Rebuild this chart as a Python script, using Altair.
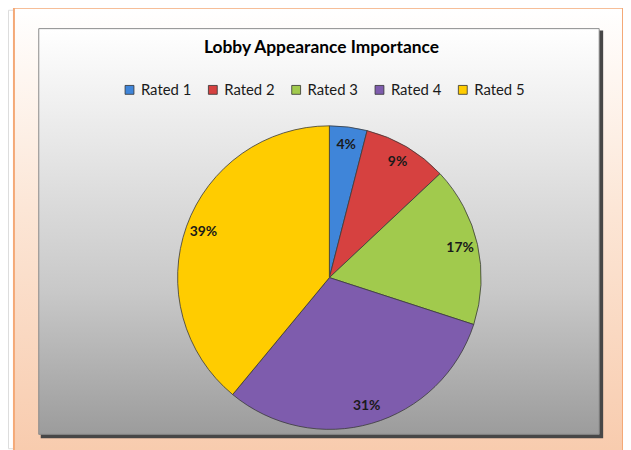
import altair as alt
import pandas as pd

categories = ["Rated 1", "Rated 2", "Rated 3", "Rated 4", "Rated 5"]
values = [4, 9, 17, 31, 39]
labels = ["4%", "9%", "17%", "31%", "39%"]
colors = ["#3F85D9", "#D64140", "#A1CA4D", "#7E5CAD", "#FFCC00"]
title_text = "Lobby Appearance Importance"

df = pd.DataFrame({"category": categories, "value": values, "label": labels,
                   "order": list(range(len(categories)))})
one = pd.DataFrame({"a": [0]})

W, H = 620, 442
CX, CY, R = 324, 270, 153

frame = alt.Chart(one).mark_rect(
    fill=alt.LinearGradient(gradient="linear", x1=0, x2=0, y1=0, y2=1,
                            stops=[alt.GradientStop(color="#FFFFFF", offset=0),
                                   alt.GradientStop(color="#FCE6D6", offset=0.45),
                                   alt.GradientStop(color="#F8CBAD", offset=1)]),
    stroke="#F4A977", strokeWidth=2
).encode(x=alt.value(6), x2=alt.value(620), y=alt.value(-2), y2=alt.value(450))

shadow = alt.Chart(one).mark_rect(fill="#474747").encode(
    x=alt.value(33), x2=alt.value(600), y=alt.value(21), y2=alt.value(432))

panel = alt.Chart(one).mark_rect(
    fill=alt.LinearGradient(gradient="linear", x1=0, x2=0, y1=0, y2=1,
                            stops=[alt.GradientStop(color="#FFFFFF", offset=0),
                                   alt.GradientStop(color="#E6E6E6", offset=0.3),
                                   alt.GradientStop(color="#C8C8C8", offset=0.65),
                                   alt.GradientStop(color="#9C9C9C", offset=1)]),
    stroke="#8A8A8A", strokeWidth=1
).encode(x=alt.value(31), x2=alt.value(596), y=alt.value(19), y2=alt.value(428))

title = alt.Chart(one).mark_text(
    text=title_text, font="Lato", fontSize=17.5, fontWeight="bold", color="#000000"
).encode(x=alt.value(316), y=alt.value(39))

base = alt.Chart(df).encode(
    theta=alt.Theta("value:Q", stack=True),
    order=alt.Order("order:Q"),
    x=alt.value(CX), y=alt.value(CY),
)

pie = base.mark_arc(outerRadius=R, stroke="#3A3A3A", strokeWidth=0.8).encode(
    color=alt.Color("category:N",
                    scale=alt.Scale(domain=categories, range=colors),
                    legend=alt.Legend(orient="none", legendX=115, legendY=73,
                                      direction="horizontal", title=None,
                                      symbolType="square", symbolSize=80,
                                      symbolStrokeColor="#333333", symbolStrokeWidth=0.8,
                                      labelFont="Lato", labelFontSize=15,
                                      labelColor="#1a1a1a", labelOffset=4,
                                      columnPadding=14))
)

text = base.mark_text(radius=135, font="Lato", fontSize=14, fontWeight="bold",
                      color="#1a1a1a").encode(text="label:N")

chart = alt.layer(frame, shadow, panel, title, pie, text).properties(
    width=W, height=H, padding=0,
    autosize=alt.AutoSizeParams(type="none"),
).configure_view(stroke=None).configure(background="#FFFFFF")

chart.save("out.html", embed_options={"renderer": "svg", "actions": False})
